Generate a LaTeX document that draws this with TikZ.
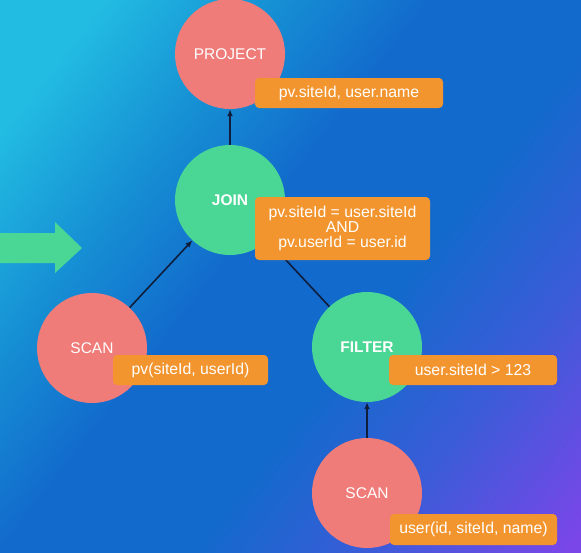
\documentclass[tikz,border=0pt]{standalone}
\usepackage{fontspec}
\setmainfont{Liberation Sans}
\usepackage{tikz}
\usetikzlibrary{positioning, arrows.meta}

\definecolor{bgcyan}{HTML}{22BCE2}
\definecolor{bglight}{HTML}{1690D4}
\definecolor{bgblue}{HTML}{126ACC}
\definecolor{bgviolet}{HTML}{3A5CD8}
\definecolor{bgpurple}{HTML}{7A46E8}
\definecolor{opred}{HTML}{EF7C79}
\definecolor{opgreen}{HTML}{4AD694}
\definecolor{lblorange}{HTML}{F3952F}
\definecolor{edgedark}{HTML}{0E1E3C}

\pgfdeclarehorizontalshading{slidebg}{100bp}{color(0bp)=(bgcyan); color(22bp)=(bgcyan); color(34bp)=(bglight); color(45bp)=(bgblue); color(58bp)=(bgblue); color(70bp)=(bgviolet); color(84bp)=(bgpurple); color(100bp)=(bgpurple)}

\begin{document}
\begin{tikzpicture}[
			x=1pt, y=-1pt,
			redop/.style={circle, fill=opred, minimum size=110pt, inner sep=0pt, text=white, font=\fontsize{15.5}{18}\selectfont},
			greenop/.style={circle, fill=opgreen, minimum size=110pt, inner sep=0pt, text=white, font=\fontsize{15.5}{18}\selectfont\bfseries},
			lbl/.style={rounded corners=4pt, fill=lblorange, text=white, inner sep=0pt, align=center, font=\fontsize{15.8}{15}\selectfont},
			flow/.style={draw=edgedark, line width=1.6pt, -{Latex[length=7pt, width=6pt]}},
			]
			
			%% ── Background ─────────────────────────────────────────────
			\useasboundingbox (0,0) rectangle (581,552);
			\shade[shading=slidebg, shading angle=-38] (0,0) rectangle (581,552);
			\fill[opgreen] (0,233) -- (55,233) -- (55,222) -- (82,248) -- (55,273) -- (55,263) -- (0,263) -- cycle;
			
			%% ── Operators ──────────────────────────────────────────────
			\node[redop]   (project)  at (230,54)  {PROJECT};
			\node[greenop] (join)     at (230,200) {JOIN};
			\node[redop]   (scanpv)   at (92,348)  {SCAN};
			\node[greenop] (filter)   at (367,347) {FILTER};
			\node[redop]   (scanuser) at (367,493) {SCAN};
			
			\draw[flow] (join) -- (project);
			\draw[flow] (scanpv) -- (join);
			\draw[flow] (filter) -- (join);
			\draw[flow] (scanuser) -- (filter);
			
			%% ── Labels ─────────────────────────────────────────────────
			\node[lbl, minimum width=188pt, minimum height=30pt] (projectlbl)  at (349,93)    {pv.siteId, user.name};
			\node[lbl, minimum width=175pt, minimum height=63pt] (joinlbl)     at (342.5,228.5) {pv.siteId = user.siteId\\AND\\pv.userId = user.id};
			\node[lbl, minimum width=155pt, minimum height=30pt] (scanpvlbl)   at (190.5,370) {pv(siteId, userId)};
			\node[lbl, minimum width=168pt, minimum height=30pt] (filterlbl)   at (473,370)   {user.siteId > 123};
			\node[lbl, minimum width=167pt, minimum height=31pt] (scanuserlbl) at (473.5,529.5) {user(id, siteId, name)};
			
		\end{tikzpicture}
\end{document}
